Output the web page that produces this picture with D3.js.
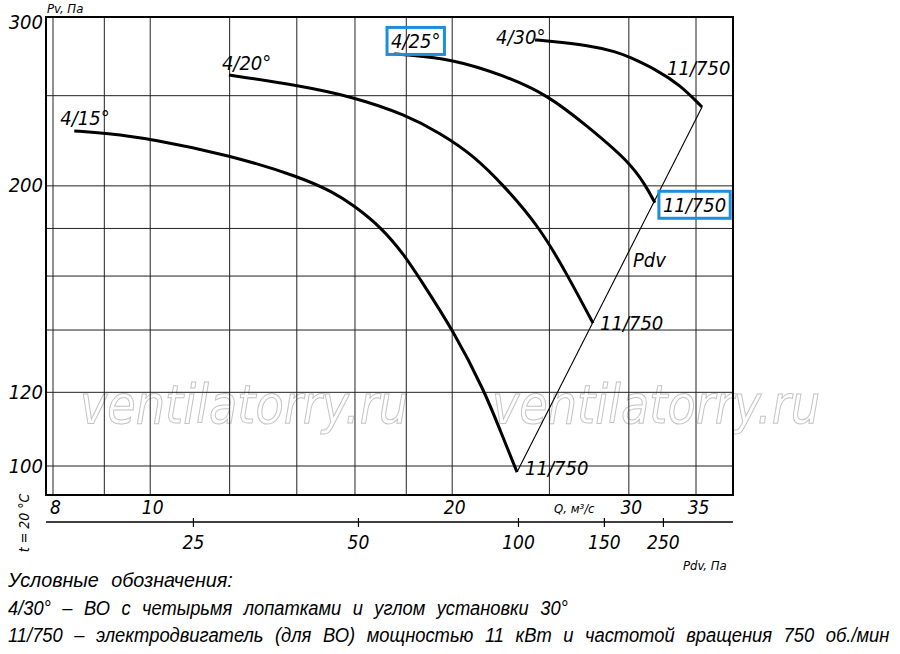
<!DOCTYPE html>
<html><head><meta charset="utf-8">
<script src="https://cdn.jsdelivr.net/npm/d3@7/dist/d3.min.js"></script>
<style>
body{margin:0;background:#fff;}
svg text{font-family:"DejaVu Sans Condensed","DejaVu Sans",sans-serif;font-style:italic;fill:#000;}
svg text.legend{font-family:"Liberation Sans","Arial",sans-serif;}
</style></head><body>
<svg id="c" width="900" height="654"></svg>
<script>
// ---------------- data ----------------
const qGrid = [8, 9, 10, 12, 14, 16, 18, 20, 25, 30, 35];
const pvGrid = [100, 120, 140, 160, 180, 200, 250];
const qTickLabels = [8, 10, 20, 30, 35];
const pvTickLabels = [100, 120, 200, 300];
const pdvTicks = [25, 50, 100, 150, 250];
const pdvTickQ = [11.03, 16.11, 23.26, 28.33, 32.44];   // Q position of each Pdv tick
const bladeNames = ["4/15°", "4/20°", "4/25°", "4/30°"];
const motorLabel = "11/750";

const q15  = [8.40, 9.04, 10.04, 11.98, 14.10, 15.21, 15.93, 17.02, 17.98, 18.49, 20.04, 21.56, 22.32, 23.21];
const pv15 = [229.1, 227.9, 224.6, 215.9, 204.5, 197.0, 190.8, 180.3, 167.7, 160.0, 140.0, 120.1, 109.3, 98.5];
const q20  = [11.98, 13.97, 15.96, 17.98, 19.45, 20.98, 22.58, 24.47, 26.09, 27.63];
const pv20 = [263.1, 256.7, 249.2, 238.4, 227.9, 215.9, 199.5, 180.3, 160.0, 142.4];
const q25  = [17.50, 17.94, 19.99, 22.48, 24.92, 27.25, 30.01, 31.20, 31.85];
const pv25 = [277.2, 276.6, 273.8, 263.1, 250.4, 232.0, 212.5, 200.0, 191.8];
const q30  = [24.19, 24.92, 27.25, 29.20, 30.01, 32.00, 33.74, 35.49];
const pv30 = [287.0, 286.2, 283.4, 278.6, 275.2, 266.4, 256.7, 243.1];

const legendLines = [
  "Условные обозначения:",
  "4/30° – ВО с четырьмя лопатками и углом установки 30°",
  "11/750 – электродвигатель (для ВО) мощностью 11 кВт и частотой вращения 750 об./мин"
];
const watermark = "ventilatorry.ru";

// ---------------- layout ----------------
const svg = d3.select("#c");
const F = {l: 46, r: 733, t: 17, b: 495};
const x = d3.scaleLog().domain([8, 35]).range([53, 696]);
const y = d3.scaleLog().domain([100, 300]).range([466, 22]);
const BLUE = "#1b8fdb";

svg.append("rect").attr("width", 900).attr("height", 654).attr("fill", "#fff");

// watermark
[[80, 408], [492, 820]].forEach(([a, b]) => {
  svg.append("text").attr("x", a).attr("y", 423)
    .attr("textLength", b - a).attr("lengthAdjust", "spacingAndGlyphs")
    .style("font-size", "53px").style("fill", "none")
    .style("stroke", "#c4c4c4").style("stroke-width", 1)
    .text(watermark);
});

// grid
const g = svg.append("g");
g.selectAll(".vg").data(qGrid).join("line")
  .attr("x1", d => x(d)).attr("x2", d => x(d)).attr("y1", F.t).attr("y2", F.b)
  .attr("stroke", "#222").attr("stroke-width", 1);
g.selectAll(".hg").data(pvGrid).join("line")
  .attr("x1", F.l).attr("x2", F.r).attr("y1", d => y(d)).attr("y2", d => y(d))
  .attr("stroke", "#222").attr("stroke-width", 1);

// frame
svg.append("rect").attr("x", F.l).attr("y", F.t).attr("width", F.r - F.l).attr("height", F.b - F.t)
  .attr("fill", "none").attr("stroke", "#000").attr("stroke-width", 2);

// axes
const xa = svg.append("g").attr("transform", `translate(0,${F.b})`)
  .call(d3.axisBottom(x).tickValues(qTickLabels).tickSize(0).tickPadding(6).tickFormat(d3.format("d")));
xa.select(".domain").remove();
xa.selectAll("text").style("font-size", "19px").attr("dx", 2);

const ya = svg.append("g").attr("transform", `translate(${F.l},0)`)
  .call(d3.axisLeft(y).tickValues(pvTickLabels).tickSize(0).tickPadding(3).tickFormat(d3.format("d")));
ya.select(".domain").remove();
ya.selectAll("text").style("font-size", "20px").attr("dy", "0.3em");

// Pdv axis
svg.append("line").attr("x1", F.l).attr("x2", F.r).attr("y1", 522).attr("y2", 522)
  .attr("stroke", "#000").attr("stroke-width", 1.6);
const pa = svg.append("g").attr("transform", "translate(0,518)")
  .call(d3.axisBottom(x).tickValues(pdvTickQ).tickSize(9).tickPadding(9)
    .tickFormat((d, i) => pdvTicks[i]));
pa.select(".domain").remove();
pa.selectAll("line").attr("stroke", "#000").attr("stroke-width", 1.2);
pa.selectAll("text").style("font-size", "19px");

// axis titles
svg.append("text").attr("x", 47).attr("y", 13).style("font-size", "13px").text("Pv, Па");
svg.append("text").attr("x", 554).attr("y", 513).style("font-size", "13px").text("Q, м³/с");
svg.append("text").attr("x", 683).attr("y", 570).style("font-size", "13px").text("Pdv, Па");
svg.append("text").attr("transform", "translate(29,523) rotate(-90)").attr("text-anchor", "middle")
  .style("font-size", "14px").text("t = 20 °C");

// curves
const line = d3.line().x(d => x(d[0])).y(d => y(d[1])).curve(d3.curveBasis);
const curves = [[q15, pv15], [q20, pv20], [q25, pv25], [q30, pv30]].map(([q, p]) => q.map((v, i) => [v, p[i]]));
curves.forEach(c => svg.append("path").attr("d", line(c)).attr("fill", "none")
  .attr("stroke", "#000").attr("stroke-width", 3));

// Pdv line through curve end points
const ends = curves.map(c => c[c.length - 1]).sort((a, b) => a[0] - b[0]);
svg.append("path").attr("d", d3.line().x(d => x(d[0])).y(d => y(d[1]))([ends[0], ends[ends.length - 1]]))
  .attr("fill", "none").attr("stroke", "#000").attr("stroke-width", 1.1);

// labels
const startOff = [[-14, 7], [-7, 8], [-3, 7], [-39, 17]];
const endOff = [[8, 3], [7, 7], [8, 9], [-35, -32]];
const boxed = [false, false, true, false];
function boxAround(t) {
  const bb = t.node().getBBox();
  svg.append("rect").attr("x", bb.x - 4).attr("y", bb.y + bb.height / 2 - 13.5)
    .attr("width", bb.width + 8).attr("height", 27)
    .attr("fill", "none").attr("stroke", BLUE).attr("stroke-width", 3);
}
curves.forEach((c, i) => {
  const s = c[0], e = c[c.length - 1];
  const t1 = svg.append("text").attr("x", x(s[0]) + startOff[i][0]).attr("y", y(s[1]) + startOff[i][1] - 13)
    .style("font-size", "20px").text(bladeNames[i]);
  const t2 = svg.append("text").attr("x", x(e[0]) + endOff[i][0]).attr("y", y(e[1]) + endOff[i][1])
    .style("font-size", "20px").text(motorLabel);
  if (boxed[i]) { boxAround(t1); boxAround(t2); }
});
svg.append("text").attr("x", 633).attr("y", 267).style("font-size", "20px").text("Pdv");

// legend: horizontally scaled so each line spans the reference width
const targets = [233, 568, 890];
const baselines = [587, 615, 642];
legendLines.forEach((s, i) => {
  const t = svg.append("text").attr("class", "legend")
    .style("word-spacing", "7px").style("font-size", "20px").text(s);
  const w = t.node().getComputedTextLength();
  t.attr("transform", `translate(8,${baselines[i]}) scale(${(targets[i] - 8) / w},1)`);
});
</script>
</body></html>
